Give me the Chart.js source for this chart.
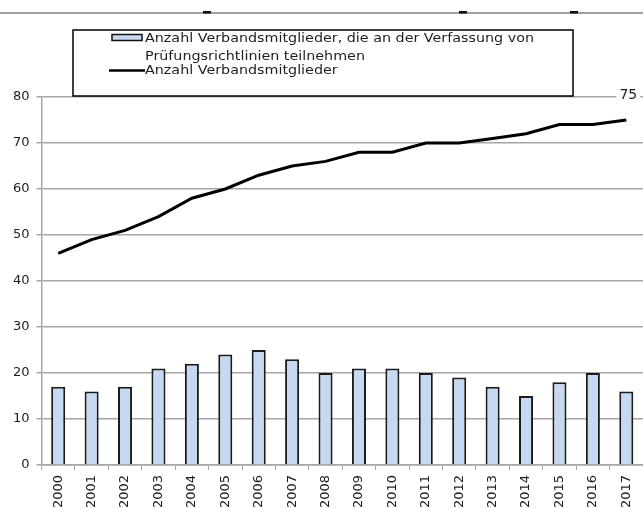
<!DOCTYPE html>
<html>
<head>
<meta charset="utf-8">
<script src="https://cdn.jsdelivr.net/npm/chart.js@4.4.0/dist/chart.umd.min.js"></script>
<style>
  body { margin: 0; background: #fff; }
  #chart { display: block; }
</style>
</head>
<body>
<canvas id="chart" width="643" height="508"></canvas>
<script>
const years = ['2000', '2001', '2002', '2003', '2004', '2005', '2006', '2007', '2008',
    '2009', '2010', '2011', '2012', '2013', '2014', '2015', '2016', '2017'];
const participants = [17, 16, 17, 21, 22, 24, 25, 23, 20, 21, 21, 20, 19, 17, 15, 18, 20, 16];
const members = [46, 49, 51, 54, 58, 60, 63, 65, 66, 68, 68, 70, 70, 71, 72, 74, 74, 75];
const yMin = 0;
const yMax = 80;
const yStep = 10;

const barLabel = 'Anzahl Verbandsmitglieder, die an der Verfassung von';
const barLabel2 = 'Prüfungsrichtlinien teilnehmen';
const lineLabel = 'Anzahl Verbandsmitglieder';

const textColor = '#1e1e1e';
const gridColor = '#a6a6a6';
const barFill = '#c6d9f1';
const font = 'DejaVu Sans';

// legend box, data label and the cut-off line at the very top
const decor = {
    id: 'decor',
    afterDraw(chart) {
        const ctx = chart.ctx;
        ctx.save();

        // remains of the cropped title
        ctx.strokeStyle = '#a0a0a0';
        ctx.lineWidth = 2;
        ctx.beginPath();
        ctx.moveTo(0, 13);
        ctx.lineTo(643, 13);
        ctx.stroke();
        ctx.fillStyle = '#111';
        [203, 459, 570].forEach(x => ctx.fillRect(x, 11, 8, 2.5));

        // legend
        ctx.fillStyle = '#fff';
        ctx.fillRect(73, 30, 500, 66);
        ctx.strokeStyle = '#000';
        ctx.lineWidth = 1.5;
        ctx.strokeRect(73, 30, 500, 66);

        ctx.fillStyle = barFill;
        ctx.fillRect(112, 34.5, 30, 6);
        ctx.strokeStyle = '#111';
        ctx.lineWidth = 1.5;
        ctx.strokeRect(112, 34.5, 30, 6);

        ctx.strokeStyle = '#000';
        ctx.lineWidth = 2.5;
        ctx.beginPath();
        ctx.moveTo(109, 70.5);
        ctx.lineTo(145, 70.5);
        ctx.stroke();

        // the legend text in the picture is stretched sideways
        ctx.fillStyle = textColor;
        ctx.font = '13px "' + font + '"';
        ctx.textAlign = 'left';
        ctx.textBaseline = 'alphabetic';
        const sx = 389 / ctx.measureText(barLabel).width;
        ctx.save();
        ctx.translate(145, 0);
        ctx.scale(sx, 1);
        ctx.fillText(barLabel, 0, 42);
        ctx.fillText(barLabel2, 0, 59.5);
        ctx.fillText(lineLabel, 0, 73.5);
        ctx.restore();

        // value label at the last point of the line
        const meta = chart.getDatasetMeta(0);
        const last = meta.data[meta.data.length - 1];
        const txt = String(members[members.length - 1]);
        ctx.font = '14px "' + font + '"';
        const w = ctx.measureText(txt).width;
        ctx.fillStyle = '#fff';
        ctx.fillRect(last.x + 2 - w / 2 - 3, last.y - 33, w + 6, 16);
        ctx.fillStyle = textColor;
        ctx.textAlign = 'center';
        ctx.textBaseline = 'middle';
        ctx.fillText(txt, last.x + 2, last.y - 25);

        ctx.restore();
    }
};

const ctx = document.getElementById('chart').getContext('2d');

const chart = new Chart(ctx, {
    data: {
        labels: years,
        datasets: [
            {
                type: 'line',
                label: lineLabel,
                data: members,
                borderColor: '#000',
                borderWidth: 3,
                pointRadius: 0,
                tension: 0,
                order: 0
            },
            {
                type: 'bar',
                label: barLabel,
                data: participants,
                backgroundColor: barFill,
                borderColor: '#1a1a1a',
                borderWidth: 2,
                categoryPercentage: 1,
                barPercentage: 0.42,
                order: 1
            }
        ]
    },
    options: {
        responsive: false,
        animation: false,
        layout: { padding: { top: 97, right: 0, left: 0, bottom: 0 } },
        plugins: {
            legend: { display: false },
            tooltip: { enabled: false }
        },
        scales: {
            x: {
                offset: true,
                grid: {
                    offset: true,
                    drawOnChartArea: false,
                    color: gridColor,
                    tickLength: 5
                },
                border: { color: gridColor, width: 1.5 },
                ticks: {
                    color: textColor,
                    font: { family: font, size: 13 },
                    minRotation: 90,
                    maxRotation: 90,
                    autoSkip: false,
                    padding: 5
                },
                afterFit(scale) {
                    scale.height = 43;
                    scale.paddingLeft = 0;
                    scale.paddingRight = 0;
                }
            },
            y: {
                min: yMin,
                max: yMax,
                grid: {
                    color: gridColor,
                    lineWidth: 1.5,
                    tickLength: 5
                },
                border: { color: gridColor, width: 1.5 },
                ticks: {
                    stepSize: yStep,
                    color: textColor,
                    font: { family: font, size: 13 },
                    padding: 7
                },
                afterFit(scale) {
                    scale.width = 41.5;
                    scale.paddingTop = 0;
                    scale.paddingBottom = 0;
                }
            }
        }
    },
    plugins: [decor]
});
</script>
</body>
</html>
